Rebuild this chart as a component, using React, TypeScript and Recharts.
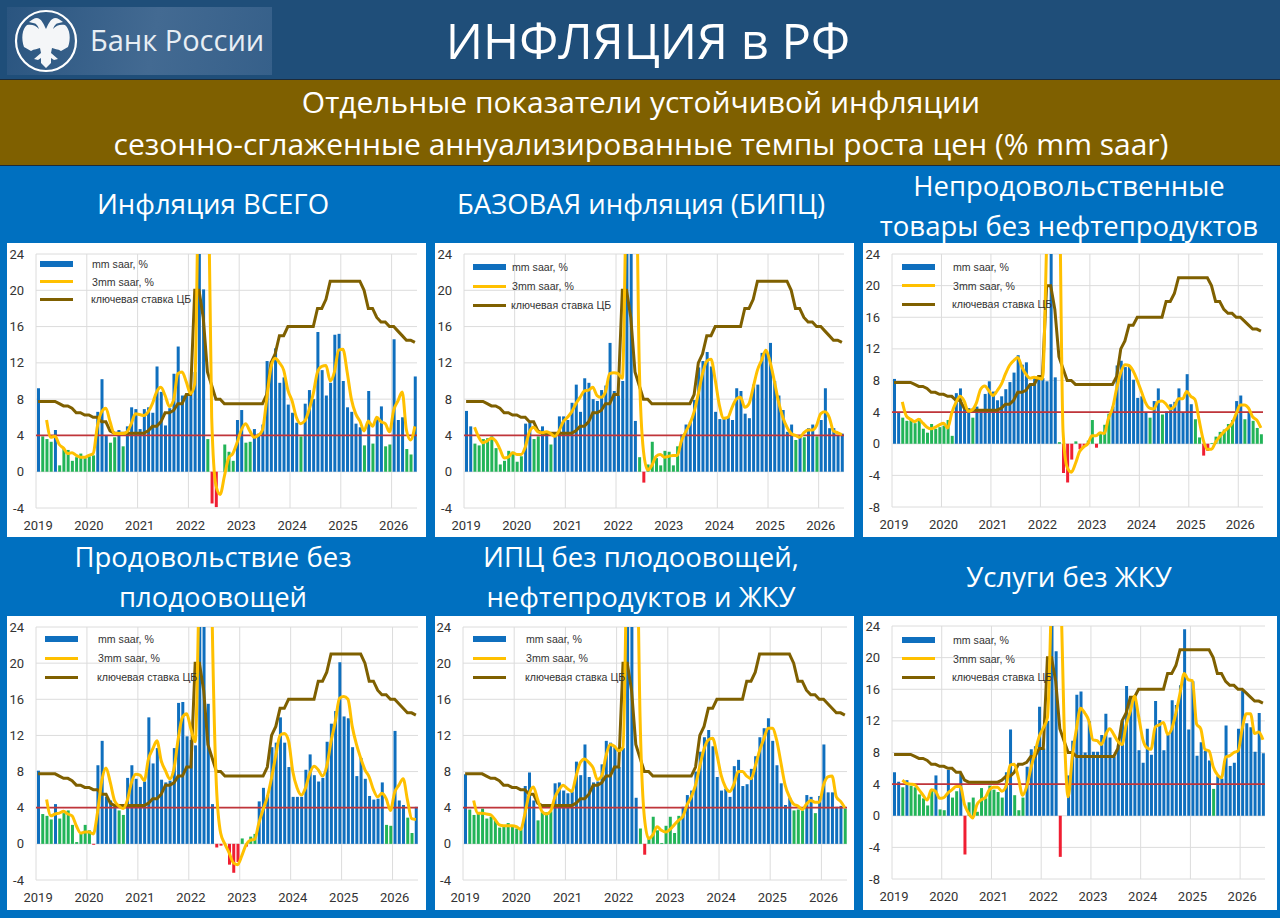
import React from 'react'
import { ComposedChart, Bar, Line, Cell, XAxis, YAxis, CartesianGrid, ReferenceLine, Legend } from 'recharts'

// Jan 2019 .. Jun 2026, one row per year
const years = [2019, 2020, 2021, 2022, 2023, 2024, 2025, 2026]
const months = years.flatMap((y) =>
  Array.from({ length: y === 2026 ? 6 : 12 }, (_, m) => `${y}-${String(m + 1).padStart(2, '0')}`)
)
const yearTicks = years.map((y) => `${y}-01`)

const keyRate = [
  7.75, 7.75, 7.75, 7.75, 7.75, 7.5, 7.25, 7.25, 7, 6.5, 6.5, 6.25,
  6.25, 6, 6, 5.5, 5.5, 4.5, 4.25, 4.25, 4.25, 4.25, 4.25, 4.25,
  4.25, 4.25, 4.5, 5, 5, 5.5, 6.5, 6.5, 6.75, 7.5, 7.5, 8.5,
  8.5, 20, 20, 17, 11, 9.5, 8, 8, 7.5, 7.5, 7.5, 7.5,
  7.5, 7.5, 7.5, 7.5, 7.5, 7.5, 8.5, 12, 13, 15, 15, 16,
  16, 16, 16, 16, 16, 16, 18, 18, 19, 21, 21, 21,
  21, 21, 21, 21, 21, 20, 18, 18, 17, 16.5, 16.5, 16,
  16, 15.5, 15, 14.5, 14.5, 14.25,
]

const totalMm = [
  9.2, 3.9, 3.6, 3.3, 4.6, 0.7, 2.5, 2.4, 1.2, 1.6, 2.0, 1.5,
  1.7, 1.8, 6.6, 10.2, 4.0, 3.2, 3.8, 4.6, 2.8, 5.0, 7.1, 6.9,
  4.7, 6.9, 7.1, 6.5, 11.6, 8.8, 5.1, 7.0, 10.8, 13.8, 8.4, 8.6,
  8.6, 11, 32, 20.1, 3.6, -3.5, -3.9, 0, 3.0, 2.2, 1.2, 5.7,
  6.8, 3.2, 3.3, 4.7, 4.2, 5.2, 12.2, 12.2, 13.6, 9.8, 10.4, 7.4,
  6.5, 5.4, 3.9, 7.5, 9.0, 8.0, 15.4, 11.2, 8.4, 9.8, 15.1, 15.2,
  10.0, 7.1, 6.6, 5.3, 4.9, 2.9, 8.9, 3.1, 5.8, 7.2, 2.8, 3.0,
  14.6, 5.7, 6.0, 2.5, 1.9, 10.5,
]
const total3mm = [
  null, null, 5.7, 3.8, 3.9, 3.0, 2.6, 2.0, 2.1, 1.8, 1.6, 1.6,
  1.8, 2.0, 5.0, 6.6, 7.0, 5.5, 4.2, 4.2, 4.2, 4.4, 5.3, 6.4,
  6.3, 6.2, 6.6, 7.5, 8.8, 9.3, 8.4, 7.2, 7.9, 10.8, 11.0, 9.9,
  8.6, 9.7, 36, 50, 40, 6, -1.5, -2.5, -0.5, 1.5, 2.0, 3.2,
  4.6, 5.3, 4.5, 3.8, 4.0, 4.6, 8, 11.5, 12.5, 12, 11.2, 9,
  7.8, 6, 5.3, 5.6, 6.8, 8.6, 11, 11.6, 11.7, 10, 11, 13.4,
  13.5, 11, 8, 6.4, 5.6, 4.5, 5.6, 5.0, 6.0, 5.5, 5.3, 4.4,
  6.8, 7.8, 8.8, 4.6, 3.5, 5.0,
]

const coreMm = [
  6.7, 5.0, 3.1, 2.9, 3.6, 3.7, 3.9, 2.6, 0.8, 1.2, 2.3, 2.2,
  1.1, 1.7, 5.3, 5.4, 3.6, 3.9, 5.0, 4.2, 3.0, 4.3, 6.1, 6.1,
  5.7, 7.6, 9.6, 6.6, 10.3, 9.8, 8.0, 7.8, 9.0, 9.5, 14.2, 8.9,
  8.4, 10, 32, 30, 5.6, 1.6, -1.2, 0.8, 3.3, 1.5, 0.7, 2.3,
  2.2, 0.7, 2.8, 4.1, 5.2, 5.5, 7.9, 11.5, 12.2, 13.2, 11.6, 6.6,
  5.8, 5.9, 6.0, 5.7, 9.2, 8.9, 6.4, 5.9, 9.6, 9.6, 13.1, 13.3,
  14.2, 10.0, 8.4, 6.8, 4.4, 5.2, 3.5, 4.0, 3.8, 4.8, 5.2, 3.9,
  5.7, 9.2, 4.8, 4.8, 4.0, 4.2,
]
const core3mm = [
  null, null, 4.9, 3.8, 3.2, 3.4, 3.7, 3.4, 2.5, 1.5, 1.6, 2.1,
  1.9, 1.9, 2.7, 4.4, 4.9, 4.4, 4.3, 4.4, 4.2, 3.9, 4.5, 5.5,
  6.0, 6.6, 7.5, 8.2, 8.9, 9.0, 9.3, 8.4, 8.2, 8.8, 10.8, 10.9,
  10.8, 10.3, 32, 45, 42, 12, 2.3, 0.2, 0.7, 1.7, 1.9, 1.6,
  1.7, 1.8, 1.8, 3.4, 4.4, 5.3, 6.6, 8.6, 10.8, 12.2, 12.4, 10.1,
  7.3, 5.9, 6.0, 7.1, 8.0, 8.2, 7.1, 7.5, 9.3, 11.2, 12.3, 13.4,
  12.1, 10, 7.7, 6, 4.9, 4.2, 4.0, 3.8, 4.3, 4.6, 4.6, 5.1,
  6.4, 6.6, 6, 4.5, 4.3, 4.1,
]

const goodsMm = [
  8.2, 4.0, 3.3, 2.9, 3.0, 2.6, 3.2, 1.9, 1.4, 2.5, 1.9, 2.1,
  2.3, 3.0, 1.0, 6.4, 7.0, 4.5, 4.5, 3.3, 4.7, 4.1, 6.3, 7.9,
  6.6, 5.5, 6.0, 6.9, 7.8, 9.0, 11.2, 10.0, 10.3, 7.5, 8.5, 8.5,
  8.3, 7.9, 30, 8.4, 0.2, -3.7, -4.9, -2.0, 0.3, -0.7, -0.3, 0.4,
  3.0, -0.5, 1.4, 2.4, 3.8, 4.7, 9.9, 10.5, 9.7, 9.7, 8.1, 5.8,
  6.0, 4.0, 3.3, 5.4, 7.0, 3.7, 4.1, 5.0, 5.3, 7.0, 4.0, 8.8,
  5.0, 3.1, 0.8, -1.5, -0.9, 0.1, 0.9, 1.5, 1.8, 2.5, 3.0, 5.4,
  6.1, 3.1, 4.0, 2.9, 2.0, 1.2,
]
const goods3mm = [
  null, null, 5.3, 3.5, 3.1, 2.8, 3.1, 2.6, 2.1, 1.9, 2.1, 2.4,
  2.6, 2.0, 3.9, 5.2, 6.0, 5.4, 4.1, 4.3, 5.2, 6.9, 7.3, 6.7,
  6.1, 6.7, 7.5, 8.8, 9.9, 10.5, 10.9, 9.7, 8.8, 8.3, 8.4, 8.3,
  8.2, 25, 45, 55, 38, 1.5, -3.0, -3.6, -2.5, -1.0, -0.4, 0.0,
  1.0, 1.0, 1.4, 1.3, 3.2, 4.5, 7.0, 9.0, 10.0, 9.9, 9.2, 8.0,
  6.6, 5.2, 4.5, 4.4, 5.3, 5.4, 5.0, 4.4, 4.7, 5.7, 5.7, 6.6,
  6.0, 5.6, 3.0, 0.5, -0.7, -0.7, 0.2, 0.9, 1.5, 2.0, 2.6, 3.8,
  4.9, 4.9, 4.5, 3.4, 3.0, 2.0,
]

const foodMm = [
  8.1, 3.3, 3.1, 2.7, 4.4, 2.8, 3.4, 3.7, 2.1, 0.2, 1.1, 2.1,
  1.5, -0.1, 8.7, 11.4, 5.2, 4.8, 4.4, 3.7, 3.2, 7.3, 8.7, 7.2,
  6.3, 6.9, 14.0, 8.9, 10.6, 7.1, 6.8, 7.0, 10.6, 15.6, 15.7, 11.9,
  11.5, 10.9, 30, 28, 15.5, 4.4, -0.4, -0.2, 0, -2.3, -3.2, -2.0,
  0.6, -0.3, 0.8, 1.1, 4.7, 6.2, 5.4, 10.7, 11.2, 14.0, 11.2, 8.5,
  5.2, 5.2, 5.2, 8.2, 9.9, 7.6, 6.9, 7.3, 11.3, 13.3, 14.7, 20.1,
  14.1, 13.9, 10.7, 7.5, 9.5, 7.2, 5.3, 4.9, 5.0, 6.8, 2.1, 2.0,
  12.5, 4.8, 4.3, 2.9, 1.2, 4.1,
]
const food3mm = [
  null, null, 4.9, 3.1, 3.3, 3.4, 3.6, 3.3, 3.1, 2.0, 1.2, 1.3,
  1.3, 1.1, 3.5, 7.0, 8.4, 6.8, 4.8, 4.2, 3.9, 4.8, 6.8, 7.7,
  7.6, 7.0, 9.4, 10.5, 11.4, 9.2, 8.1, 7.2, 8.3, 11.6, 14.0, 14.4,
  12.7, 11.3, 30, 50, 60, 25, 6.5, 1.2, 0.0, -1.0, -2.1, -2.3,
  -1.3, -0.1, 0.4, 0.5, 2.3, 3.8, 5.2, 7.3, 9.8, 12.0, 12.2, 11.4,
  8.0, 6.2, 5.4, 6.2, 7.8, 8.6, 8.2, 7.5, 8.6, 11.3, 13.5, 16.1,
  16.3, 16.0, 13, 11, 9.5, 8.2, 7.4, 6.0, 5.2, 5.6, 5.0, 3.7,
  5.7, 6.5, 7.2, 4.9, 2.8, 2.7,
]

const cpiExMm = [
  7.7, 3.8, 3.2, 3.3, 3.9, 2.8, 3.0, 2.6, 1.8, 1.9, 2.3, 2.0,
  1.7, 1.6, 6.4, 7.9, 4.8, 2.6, 3.5, 3.5, 3.6, 6.7, 6.8, 5.9,
  5.6, 5.8, 9.1, 7.6, 11.0, 7.4, 6.8, 6.9, 8.8, 11.4, 11.2, 10.7,
  8.5, 10.6, 30, 26, 5.1, 1.7, -1.2, 0.7, 3.0, 1.5, 0.1, 2.0,
  3.0, 1.2, 3.1, 4.1, 5.4, 5.9, 8.0, 10.2, 11.8, 12.6, 10.8, 7.4,
  5.9, 6.1, 5.2, 8.6, 9.3, 6.4, 6.6, 8.3, 9.7, 11.8, 12.8, 13.9,
  11.4, 8.7, 6.7, 4.3, 5.1, 3.7, 3.8, 3.7, 5.4, 5.2, 3.4, 5.3,
  11.0, 5.7, 5.7, 4.1, 4.2, 3.9,
]
const cpiEx3mm = [
  null, null, 4.8, 3.4, 3.4, 3.3, 3.2, 2.7, 2.1, 2.0, 2.0, 2.0,
  1.9, 1.6, 3.3, 5.5, 6.3, 4.9, 3.6, 3.3, 3.6, 5.1, 6.0, 6.5,
  6.1, 5.8, 7.5, 9.0, 9.4, 9.0, 8.4, 7.1, 7.5, 9.7, 11.0, 10.8,
  10.3, 10.7, 34, 48, 42, 14, 3.0, 0.6, 1.0, 1.9, 1.5, 1.3,
  1.6, 2.1, 2.6, 3.0, 4.3, 5.2, 6.5, 8.6, 10.5, 11.5, 11.7, 9.9,
  7.6, 6.3, 5.8, 6.6, 8.0, 8.0, 7.5, 7.2, 8.6, 10.3, 11.6, 12.8,
  12.8, 11.5, 9, 6.5, 5.2, 4.4, 4.2, 3.8, 4.4, 4.8, 4.6, 4.6,
  6.5, 7.4, 7.5, 5.2, 4.7, 4.0,
]

const servicesMm = [
  5.5, 4.3, 3.6, 4.5, 3.8, 3.6, 2.7, 2.2, 1.3, 3.3, 5.1, 0.8,
  0.7, 5.8, 2.3, 3.1, 5.3, -4.9, 1.7, 2.3, 0.5, 3.5, 2.2, 3.8,
  3.3, 3.0, 2.3, 5.5, 10.9, 2.6, 0.7, 2.3, 6.2, 8.4, 8.8, 13.8,
  8.5, 12, 24.5, 20.8, -5.2, 0, 5.1, 9.5, 15.3, 15.7, 8.0, 12,
  8.1, 8.1, 10.2, 12.9, 9.9, 7.5, 8.9, 12, 16.4, 15.1, 15, 8.3,
  6.7, 11.0, 7.7, 14.5, 12.1, 8.3, 10.2, 14.6, 14.0, 16.5, 23.6, 10.9,
  17, 7.6, 9.3, 8.2, 7.0, 3.4, 5.0, 4.7, 11.4, 6.3, 6.7, 11.0,
  15.8, 11.7, 11.2, 8.1, 13.0, 7.9,
]
const services3mm = [
  null, null, 4.5, 4.1, 4.0, 3.9, 3.3, 2.6, 2.0, 3.3, 3.1, 2.2,
  2.3, 2.9, 3.3, 3.7, 3.7, 1.4, 0.3, -0.3, 1.4, 2.0, 2.3, 3.3,
  3.6, 3.6, 3.1, 3.7, 6.4, 6.5, 4.8, 2.6, 3.7, 6.0, 8.0, 10,
  11.1, 12.4, 28, 45, 34, 12, 2.4, 7.5, 11, 13.6, 13.0, 12.0,
  9.6, 9.5, 9.0, 10.2, 11, 10.3, 9.4, 9.0, 11.5, 13.2, 15.1, 12.6,
  9.7, 8.6, 8.4, 11.2, 11.5, 11.8, 10.3, 11, 13, 15.5, 18, 17.2,
  17.1, 11.6, 11, 8.4, 8.2, 6.2, 5.2, 4.8, 7.4, 7.6, 8.0, 8.2,
  11, 12.9, 12.9, 10.4, 10.6, 9.6,
]

const SERIES_NAMES = ['mm saar, %', '3mm saar, %', 'ключевая ставка ЦБ']
const BLUE = '#0F6FBE'
const GREEN = '#22B458'
const RED = '#F01E32'
const YELLOW = '#FFC000'
const BROWN = '#7F6000'
const FONT = "'Open Sans', sans-serif"

const barColor = (v: number) => (v < 0 ? RED : v < 4 ? GREEN : BLUE)

const toRows = (mm: number[], m3: (number | null)[]) =>
  months.map((month, i) => ({ month, mm: mm[i], m3: m3[i], rate: keyRate[i] }))

// box: x, y, w, h. plot: left, top, right, bottom. legend: swatch x, first row y, label gap, row gap
const panels = [
  { mm: totalMm, m3: total3mm, box: [7, 243, 419, 294], plot: [36, 254, 417, 508], min: -4, legend: [40, 264, 52, 17.5] },
  { mm: coreMm, m3: core3mm, box: [435, 243, 419, 294], plot: [464, 254, 844, 508], min: -4, legend: [473, 267, 39, 19] },
  { mm: goodsMm, m3: goods3mm, box: [863, 243, 414, 294], plot: [892, 254, 1263, 507], min: -8, legend: [902, 267, 51, 18.5] },
  { mm: foodMm, m3: food3mm, box: [7, 616, 419, 294], plot: [36, 627, 418, 880], min: -4, legend: [45, 639, 53, 19] },
  { mm: cpiExMm, m3: cpiEx3mm, box: [435, 616, 419, 294], plot: [463, 627, 847, 880], min: -4, legend: [473, 639, 53, 19] },
  { mm: servicesMm, m3: services3mm, box: [863, 616, 414, 294], plot: [892, 626, 1265, 879], min: -8, legend: [902, 640, 51, 18.5] },
]

const headings = [
  { text: 'Инфляция ВСЕГО', x: 213, y: 204 },
  { text: 'БАЗОВАЯ инфляция (БИПЦ)', x: 641, y: 204 },
  { text: 'Непродовольственные', x: 1069, y: 186 },
  { text: 'товары без нефтепродуктов', x: 1069, y: 226 },
  { text: 'Продовольствие без', x: 213, y: 557 },
  { text: 'плодоовощей', x: 213, y: 597 },
  { text: 'ИПЦ без плодоовощей,', x: 641, y: 557 },
  { text: 'нефтепродуктов и ЖКУ', x: 641, y: 597 },
  { text: 'Услуги без ЖКУ', x: 1069, y: 577 },
]

function Centered({ x, y, size, children }: { x: number; y: number; size: number; children: React.ReactNode }) {
  return (
    <div style={{
      position: 'absolute', left: x - 640, top: y - size - 1, width: 1280, height: size * 2, lineHeight: `${size * 2}px`,
      textAlign: 'center', color: '#fff', fontFamily: FONT, fontSize: size, whiteSpace: 'nowrap',
    }}>
      {children}
    </div>
  )
}

function LegendBox({ labelGap, rowGap }: { labelGap: number; rowGap: number }) {
  const colors = [BLUE, YELLOW, BROWN]
  return (
    <div style={{ position: 'relative', width: 200, height: 60 }}>
      {SERIES_NAMES.map((name, i) => (
        <div key={name} style={{ position: 'absolute', left: 0, top: i * rowGap, height: 10, width: 200 }}>
          <span style={{
            position: 'absolute', left: 0, top: i === 0 ? -3 : -1.5, width: 33,
            height: i === 0 ? 6 : 3, background: colors[i],
          }} />
          <span style={{
            position: 'absolute', left: labelGap - (i === 2 ? 1 : 0), top: -7, fontFamily: "'Liberation Sans', Arial, sans-serif",
            fontSize: 10.6, color: '#333', lineHeight: '14px', whiteSpace: 'nowrap',
          }}>
            {name}
          </span>
        </div>
      ))}
    </div>
  )
}

function Panel({ mm, m3, box, plot, min, legend }: (typeof panels)[number]) {
  const [bx, by, bw, bh] = box
  const [left, top, right, bottom] = plot
  const data = toRows(mm, m3)
  const yTicks: number[] = []
  for (let v = min; v <= 24; v += 4) yTicks.push(v)
  const tickStyle = { fontSize: 13, fill: '#333', fontFamily: 'Roboto, sans-serif' }

  return (
    <div style={{ position: 'absolute', left: bx, top: by, width: bw, height: bh, background: '#fff' }}>
      <ComposedChart
        width={bw}
        height={bh}
        data={data}
        margin={{ top: top - by, right: bx + bw - right, bottom: 0, left: 0 }}
      >
        <CartesianGrid
          stroke="#DCDCDC"
          strokeWidth={1}
          verticalCoordinatesGenerator={({ offset }: any) =>
            years.map((_, i) => offset.left + (offset.width * i * 12) / months.length)
          }
        />
        <XAxis
          dataKey="month"
          scale="band"
          ticks={yearTicks}
          interval={0}
          tickFormatter={(m: string) => m.slice(0, 4)}
          height={by + bh - bottom}
          axisLine={false}
          tickLine={false}
          tickSize={0}
          tickMargin={13}
          tick={tickStyle}
        />
        <YAxis
          domain={[min, 24]}
          ticks={yTicks}
          interval={0}
          allowDataOverflow
          width={left - bx}
          axisLine={false}
          tickLine={false}
          tickSize={0}
          tickMargin={12}
          tick={tickStyle}
        />
        <Legend
          layout="vertical"
          align="center"
          verticalAlign="middle"
          wrapperStyle={{ left: legend[0] - bx, top: legend[1] - by, width: 200 }}
          content={() => <LegendBox labelGap={legend[2]} rowGap={legend[3]} />}
        />
        <Bar dataKey="mm" barSize={3} isAnimationActive={false}>
          {data.map((d) => (
            <Cell key={d.month} fill={barColor(d.mm)} />
          ))}
        </Bar>
        <ReferenceLine y={4} stroke="#C0353A" strokeWidth={1.8} />
        <Line dataKey="rate" type="linear" stroke={BROWN} strokeWidth={3} dot={false} isAnimationActive={false} />
        <Line dataKey="m3" type="monotone" stroke={YELLOW} strokeWidth={3} dot={false} isAnimationActive={false} connectNulls={false} />
      </ComposedChart>
    </div>
  )
}

const EAGLE_HALF =
  'M0 -12 C2 -16 4 -22 9 -23 C12 -23 14 -21 17 -19 L13 -18 C10 -18 8 -15 7 -12 C10 -16 15 -17 19 -16 C24 -12 25 -2 22 6 L15 10 C12 8 8 8 6 7 L5 12 L12 18 L8 19 L5 17 L5 22 L0 27 Z'

function Emblem() {
  return (
    <svg width={66} height={66} viewBox="-33 -33 66 66" style={{ position: 'absolute', left: 13, top: 8 }}>
      <circle r={30} fill="none" stroke="#fff" strokeWidth={2.2} />
      <g fill="#f4f6f8">
        <path d={EAGLE_HALF} />
        <path d={EAGLE_HALF} transform="scale(-1,1)" />
      </g>
    </svg>
  )
}

export default function App() {
  return (
    <div style={{ position: 'absolute', left: 0, top: 0, width: 1280, height: 918, background: '#0070C0', overflow: 'hidden' }}>
      <div style={{ position: 'absolute', left: 0, top: 0, width: 1280, height: 79, background: '#1F4E79' }} />
      <div style={{
        position: 'absolute', left: 7, top: 7, width: 265, height: 68,
        background: 'linear-gradient(100deg, #2a5580 0%, #436a92 55%, #36608a 100%)',
      }} />
      <Emblem />
      <div style={{
        position: 'absolute', left: 90, top: 18, color: '#e8eef4', fontSize: 29,
        fontFamily: FONT, lineHeight: '44px', whiteSpace: 'nowrap',
      }}>
        Банк России
      </div>
      <Centered x={648} y={41} size={49}>ИНФЛЯЦИЯ в РФ</Centered>

      <div style={{
        position: 'absolute', left: 0, top: 79, width: 1280, height: 87, background: '#7F6000',
        borderTop: '1px solid #1c2b3a', borderBottom: '1px solid #1c2b3a', boxSizing: 'border-box',
      }} />
      <Centered x={641} y={103} size={30}>Отдельные показатели устойчивой инфляции</Centered>
      <Centered x={641} y={145} size={30}>сезонно-сглаженные аннуализированные темпы роста цен (% mm saar)</Centered>

      {headings.map((h) => (
        <Centered key={h.text} x={h.x} y={h.y} size={27.5}>{h.text}</Centered>
      ))}

      {panels.map((p, i) => (
        <Panel key={i} {...p} />
      ))}
    </div>
  )
}
